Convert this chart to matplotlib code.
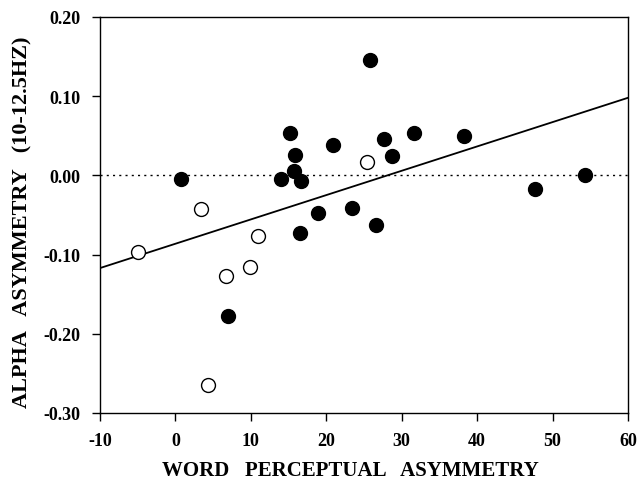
import matplotlib
matplotlib.use("Agg")
import matplotlib.pyplot as plt
import numpy as np

# filled circles
x_filled = [0.7, 14.0, 15.2, 15.9, 15.7, 16.6, 20.9, 25.8, 27.6, 28.7, 31.6, 38.3, 47.7, 54.3,
            18.9, 23.4, 16.5, 26.6, 7.0]
y_filled = [-0.004, -0.004, 0.054, 0.026, 0.006, -0.007, 0.038, 0.146, 0.046, 0.024, 0.054, 0.050,
            -0.017, 0.001, -0.047, -0.041, -0.073, -0.063, -0.177]
# open circles
x_open = [-5.0, 3.4, 10.9, 9.9, 6.7, 4.3, 25.4]
y_open = [-0.097, -0.043, -0.077, -0.116, -0.127, -0.265, 0.017]
# regression line end points
x_fit = [-10, 60]
y_fit = [-0.117, 0.098]

xticks = [-10, 0, 10, 20, 30, 40, 50, 60]
yticks = [-0.30, -0.20, -0.10, 0.00, 0.10, 0.20]

plt.rcParams['font.family'] = ['Liberation Serif', 'DejaVu Serif']
plt.rcParams['font.weight'] = 'bold'

W, H = 639, 485
fig = plt.figure(figsize=(W / 100, H / 100), dpi=100)
ax = fig.add_axes([100 / W, 1 - 414 / H, 528 / W, 396 / H])

ax.axhline(0, color='black', lw=1.0, ls=(0, (1.5, 3)), zorder=1)
ax.plot(x_fit, y_fit, color='black', lw=1.3, zorder=2)
ax.scatter(x_filled, y_filled, s=100, c='black', edgecolors='black', zorder=3)
ax.scatter(x_open, y_open, s=100, facecolors='white', edgecolors='black', linewidths=1.0, zorder=3)

ax.set_xlim(-10, 60)
ax.set_ylim(-0.30, 0.20)
ax.set_xticks(xticks)
ax.set_yticks(yticks)
ax.set_xticklabels([str(t) for t in xticks], fontsize=13, fontweight='bold')
ax.set_yticklabels(['%.2f' % t for t in yticks], fontsize=13, fontweight='bold')
ax.tick_params(direction='out', length=6, width=1, pad=8)
for sp in ax.spines.values():
    sp.set_linewidth(1.0)

# axis titles placed by hand like the original
fig.text(350 / W, 1 - 471 / H, 'WORD   PERCEPTUAL   ASYMMETRY', fontsize=15, fontweight='bold',
         ha='center', va='center')
fig.text(22 / W, 1 - 222 / H, 'ALPHA   ASYMMETRY   (10-12.5HZ)', fontsize=16, fontweight='bold',
         ha='center', va='center', rotation=90)

fig.savefig('out.png', dpi=100)
